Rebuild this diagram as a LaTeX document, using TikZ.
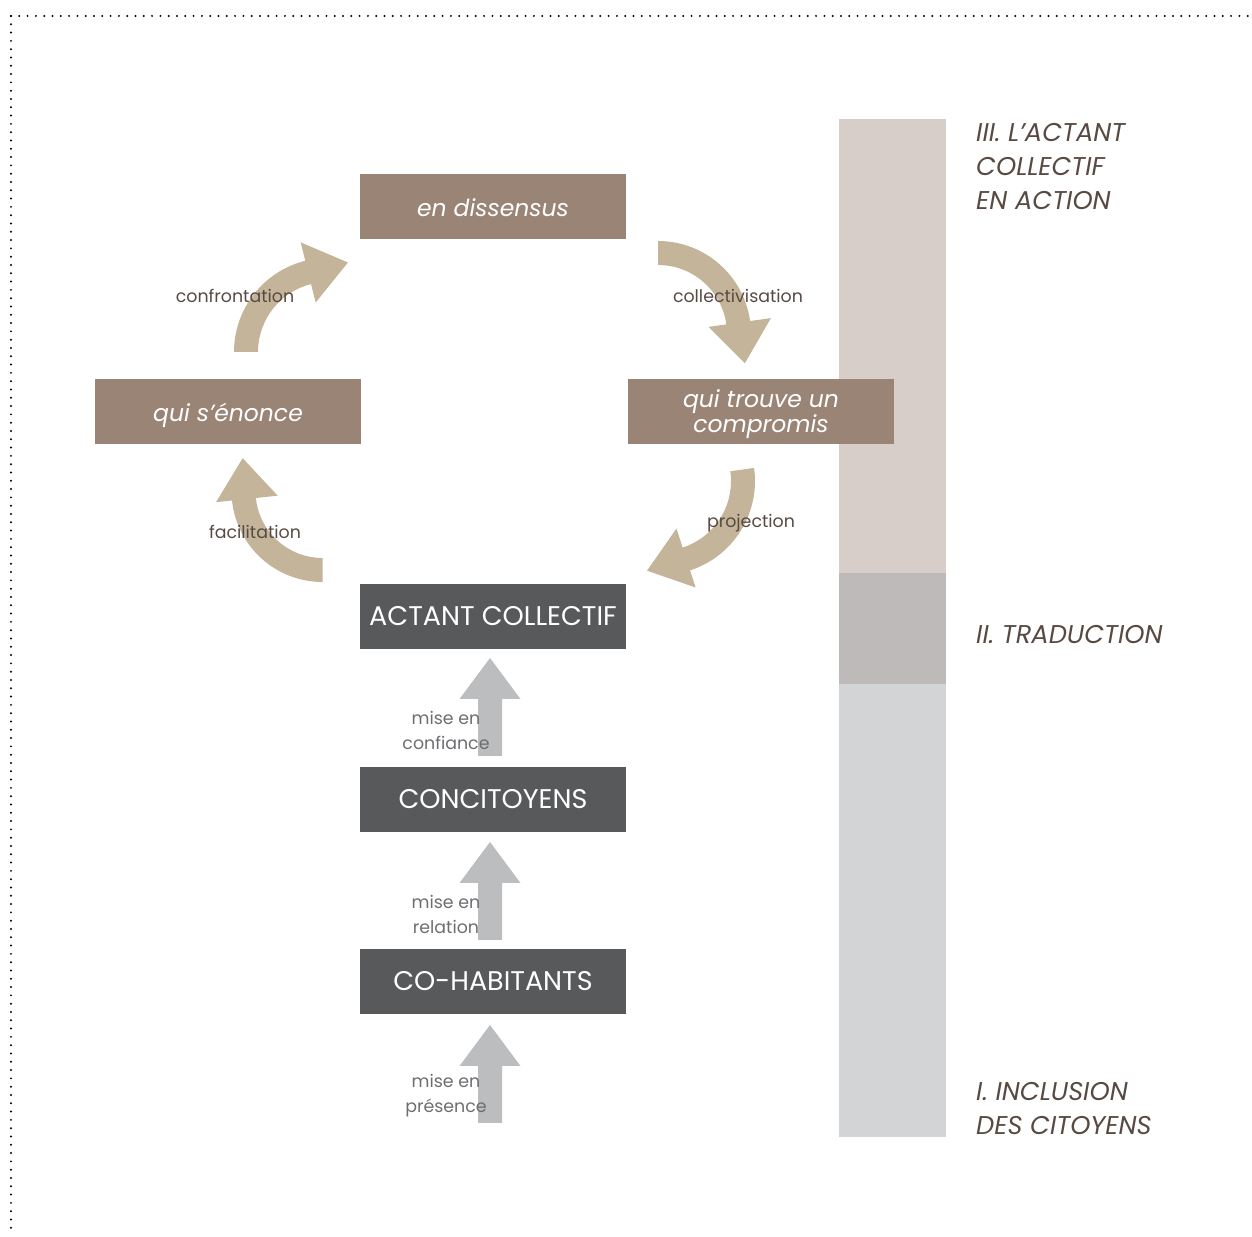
\documentclass[tikz,border=0pt]{standalone}
\usepackage{fontspec}
\setmainfont{Poppins}
\usetikzlibrary{calc}
\definecolor{boxbrown}{HTML}{9A8476}
\definecolor{boxdark}{HTML}{58595B}
\definecolor{arrtan}{HTML}{C4B59A}
\definecolor{arrgray}{HTML}{BCBDBF}
\definecolor{barA}{HTML}{D7CEC9}
\definecolor{barB}{HTML}{BEBAB9}
\definecolor{barC}{HTML}{D3D4D6}
\definecolor{txtbrown}{HTML}{584A43}
\definecolor{txtgray}{HTML}{6D6E71}
\tikzset{
  brownbox/.style={fill=boxbrown, text=white, minimum width=266pt, minimum height=65pt, inner sep=0pt, font=\fontsize{23.5}{23.5}\selectfont\itshape},
  darkbox/.style={fill=boxdark, text=white, minimum width=266pt, minimum height=65pt, inner sep=0pt, font=\fontsize{27}{27}\selectfont},
  steplabel/.style={text=txtbrown, inner sep=0pt, font=\fontsize{17.4}{17.4}\selectfont},
  miselabel/.style={text=txtgray, inner sep=0pt, align=center, font=\fontsize{17.4}{25}\selectfont},
  phaselabel/.style={text=txtbrown, inner sep=0pt, anchor=west, align=left, font=\fontsize{25.7}{34}\selectfont\itshape},
  dotline/.style={line width=2.2pt, line cap=round, dash pattern=on 0pt off 8.3pt},
}
\begin{document}
\begin{tikzpicture}[x=1pt,y=1pt]
\useasboundingbox (0,0) rectangle (1252,1236);
% dotted frame
\draw[dotline] (11,1220) -- (1252,1220);
\draw[dotline] (11,1220) -- (11,0);
% phase bar
\fill[barA] (839,663) rectangle (946,1117);
\fill[barB] (839,552) rectangle (946,663);
\fill[barC] (839,99) rectangle (946,552);
% boxes
\node[brownbox] (dissensus) at (493,1029.5) {\raisebox{-10.5pt}[0pt][0pt]{en dissensus}};
\node[brownbox] (enonce) at (228,824.5) {\raisebox{-10pt}[0pt][0pt]{qui s’énonce}};
\node[brownbox] (compromis) at (761,824.5) {\raisebox{4pt}[0pt][0pt]{\begin{tabular}[t]{@{}c@{}}qui trouve un\\compromis\end{tabular}}};
\node[darkbox] (actant) at (493,619.5) {ACTANT COLLECTIF};
\node[darkbox] (concitoyens) at (493,436.5) {CONCITOYENS};
\node[darkbox] (cohabitants) at (493,254.5) {CO-HABITANTS};
% curved arrows (clockwise)
% confrontation
\begin{scope}[shift={(328,884)}]
\fill[arrtan] (180:94) arc[start angle=180, end angle=104, radius=94] -- (104:113) -- ($(104:82)+(14:41)$) -- (104:51) -- (104:70) arc[start angle=104, end angle=180, radius=70] -- cycle;
\end{scope}
% collectivisation
\begin{scope}[shift={(658,902)}]
\fill[arrtan] (90:93) arc[start angle=90, end angle=8, radius=93] -- (8:114) -- ($(8:82)+(-82:41)$) -- (8:51) -- (8:69) arc[start angle=8, end angle=90, radius=69] -- cycle;
\end{scope}
% projection
\begin{scope}[shift={(661,755)}]
\fill[arrtan] (8:94) arc[start angle=8, end angle=-72, radius=94] -- (-72:112) -- ($(-72:81)+(-162:41)$) -- (-72:50) -- (-72:70) arc[start angle=-72, end angle=8, radius=70] -- cycle;
\end{scope}
% facilitation
\begin{scope}[shift={(322.5,745)}]
\fill[arrtan] (-90:91) arc[start angle=-90, end angle=-174, radius=91] -- (-174:107) -- ($(-174:76)+(96:41)$) -- (-174:45) -- (-174:67) arc[start angle=-174, end angle=-90, radius=67] -- cycle;
\end{scope}
% straight up arrows
\fill[arrgray] (478,480) -- (478,537) -- (459.5,537) -- (490,578) -- (520.5,537) -- (502,537) -- (502,480) -- cycle;
\fill[arrgray] (478,296) -- (478,353) -- (459.5,353) -- (490,394) -- (520.5,353) -- (502,353) -- (502,296) -- cycle;
\fill[arrgray] (478,113) -- (478,170) -- (459.5,170) -- (490,211) -- (520.5,170) -- (502,170) -- (502,113) -- cycle;
% step labels
\node[steplabel] (lconf) at (235,940) {confrontation};
\node[steplabel] (lcoll) at (738,940) {collectivisation};
\node[steplabel] (lproj) at (751,713) {projection};
\node[steplabel] (lfaci) at (255,704) {facilitation};
\node[miselabel] (m1) at (446,505.5) {mise en\\confiance};
\node[miselabel] (m2) at (446,322) {mise en\\relation};
\node[miselabel] (m3) at (446,140) {mise en\\présence};
% phase labels
\node[phaselabel] (p3) at (976,1069) {III. L’ACTANT\\COLLECTIF\\EN ACTION};
\node[phaselabel] (p2) at (976,601) {II. TRADUCTION};
\node[phaselabel] (p1) at (976,127.5) {I. INCLUSION\\DES CITOYENS};
\end{tikzpicture}
\end{document}
